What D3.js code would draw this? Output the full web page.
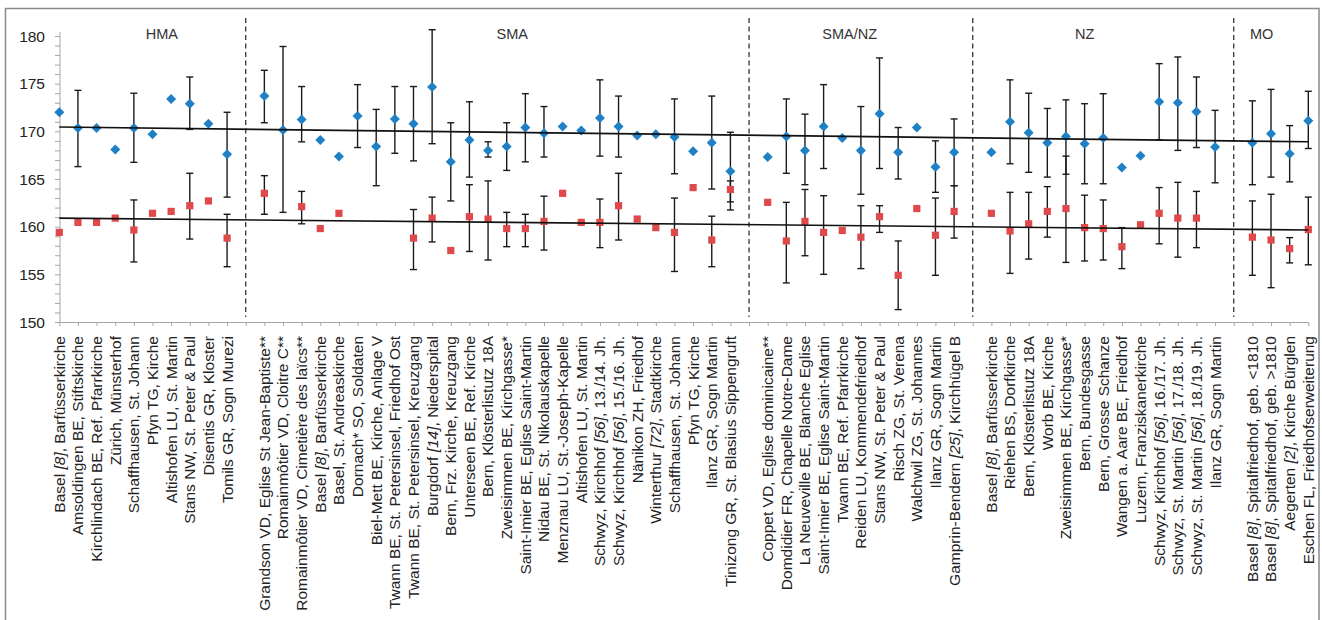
<!DOCTYPE html>
<html>
<head>
<meta charset="utf-8">
<script src="https://cdn.jsdelivr.net/npm/d3@7"></script>
<style>
  html, body { margin: 0; padding: 0; background: #fff; }
  svg { display: block; font-family: "Liberation Sans", Arial, Helvetica, sans-serif; }
</style>
</head>
<body>
<svg id="chart" width="1322" height="620"></svg>
<script>
// ---------- data ----------
const categories = [
  "Basel [8], Barfüsserkirche", "Amsoldingen BE, Stiftskirche", "Kirchlindach BE, Ref. Pfarrkirche",
  "Zürich, Münsterhof", "Schaffhausen, St. Johann", "Pfyn TG, Kirche", "Altishofen LU, St. Martin",
  "Stans NW, St. Peter & Paul", "Disentis GR, Kloster", "Tomils GR, Sogn Murezi", "",
  "Grandson VD, Eglise St Jean-Baptiste**", "Romainmôtier VD, Cloitre C**", "Romainmôtier VD, Cimetière des laïcs**",
  "Basel [8], Barfüsserkirche", "Basel, St. Andreaskirche", "Dornach* SO, Soldaten", "Biel-Mett BE, Kirche, Anlage V",
  "Twann BE, St. Petersinsel, Friedhof Ost", "Twann BE, St. Petersinsel, Kreuzgang", "Burgdorf [14], Niederspital",
  "Bern, Frz. Kirche, Kreuzgang", "Unterseen BE, Ref. Kirche", "Bern, Klösterlistutz 18A", "Zweisimmen BE, Kirchgasse*",
  "Saint-Imier BE, Eglise Saint-Martin", "Nidau BE, St. Nikolauskapelle", "Menznau LU, St.-Joseph-Kapelle",
  "Altishofen LU, St. Martin", "Schwyz, Kirchhof [56], 13./14. Jh.", "Schwyz, Kirchhof [56], 15./16. Jh.",
  "Nänikon ZH, Friedhof", "Winterthur [72], Stadtkirche", "Schaffhausen, St. Johann", "Pfyn TG, Kirche",
  "Ilanz GR, Sogn Martin", "Tinizong GR, St. Blasius Sippengruft", "",
  "Coppet VD, Eglise dominicaine**", "Domdidier FR, Chapelle Notre-Dame", "La Neuveville BE, Blanche Eglise",
  "Saint-Imier BE, Eglise Saint-Martin", "Twann BE, Ref. Pfarrkirche", "Reiden LU, Kommendefriedhof",
  "Stans NW, St. Peter & Paul", "Risch ZG, St. Verena", "Walchwil ZG, St. Johannes", "Ilanz GR, Sogn Martin",
  "Gamprin-Bendern [25], Kirchhügel B", "",
  "Basel [8], Barfüsserkirche", "Riehen BS, Dorfkirche", "Bern, Klösterlistutz 18A", "Worb BE, Kirche",
  "Zweisimmen BE, Kirchgasse*", "Bern, Bundesgasse", "Bern, Grosse Schanze", "Wangen a. Aare BE, Friedhof",
  "Luzern, Franziskanerkirche", "Schwyz, Kirchhof [56], 16./17. Jh.", "Schwyz, St. Martin [56], 17./18. Jh.",
  "Schwyz, St. Martin [56], 18./19. Jh.", "Ilanz GR, Sogn Martin", "",
  "Basel [8], Spitalfriedhof, geb. <1810", "Basel [8], Spitalfriedhof, geb. >1810",
  "Aegerten [2], Kirche Bürglen", "Eschen FL, Friedhofserweiterung"
];

// male mean stature (blue diamonds)
const maleValues = [
  172.0, 170.35, 170.35, 168.1, 170.35, 169.7, 173.4, 172.9, 170.8, 167.6, null,
  173.7, 170.15, 171.25, 169.1, 167.35, 171.6, 168.4, 171.3, 170.8, 174.65, 166.8, 169.1, 168.0, 168.4,
  170.4, 169.8, 170.5, 170.1, 171.4, 170.5, 169.55, 169.7, 169.4, 167.9, 168.8, 165.8, null,
  167.3, 169.45, 168.0, 170.5, 169.3, 168.0, 171.85, 167.8, 170.4, 166.25, 167.8, null,
  167.8, 171.0, 169.85, 168.8, 169.45, 168.7, 169.3, 166.2, 167.45, 173.1, 173.0, 172.05, 168.35, null,
  168.8, 169.75, 167.65, 171.1
];
const maleLow = [
  null, 166.3, null, null, 166.75, null, null, 170.2, null, 163.1, null,
  170.9, 161.5, 168.9, null, null, 168.3, 164.3, 167.7, 166.9, 168.7, 162.7, 165.2, 167.3, 165.9,
  166.8, 167.3, null, null, 167.4, 167.3, null, null, 165.55, null, 163.95, 161.75, null,
  null, 165.6, 164.4, 166.1, null, 163.4, 166.1, 165.0, null, 163.6, 164.3, null,
  null, 166.6, 165.7, 165.2, 165.5, 164.5, 164.5, null, null, 169.1, 168.0, 168.3, 164.6, null,
  164.4, 165.2, 164.7, 168.2
];
const maleHigh = [
  null, 174.3, null, null, 174.0, null, null, 175.7, null, 172.0, null,
  176.4, 178.9, 174.7, null, null, 174.9, 172.3, 174.7, 174.7, 180.66, 170.9, 173.1, 168.9, 170.9,
  173.95, 172.6, null, null, 175.4, 173.7, null, null, 173.4, null, 173.7, 169.9, null,
  null, 173.4, 171.8, 174.9, null, 172.6, 177.7, 170.4, null, 169.0, 171.3, null,
  null, 175.4, 174.0, 172.4, 173.3, 172.9, 173.95, null, null, 177.1, 177.8, 175.7, 172.2, null,
  173.2, 174.4, 170.6, 174.2
];

// female mean stature (red squares)
const femaleValues = [
  159.4, 160.45, 160.45, 160.9, 159.65, 161.4, 161.6, 162.2, 162.7, 158.8, null,
  163.5, null, 162.1, 159.8, 161.4, null, null, null, 158.8, 160.9, 157.5, 161.05, 160.8, 159.8,
  159.8, 160.55, 163.5, 160.45, 160.45, 162.2, 160.8, 159.9, 159.4, 164.1, 158.6, 163.9, null,
  162.55, 158.5, 160.55, 159.4, 159.6, 158.9, 161.05, 154.9, 161.9, 159.1, 161.6, null,
  161.4, 159.55, 160.3, 161.6, 161.9, 159.9, 159.8, 157.9, 160.2, 161.4, 160.9, 160.9, null, null,
  158.9, 158.6, 157.7, 159.7
];
const femaleLow = [
  null, null, null, null, 156.3, null, null, 158.7, null, 155.8, null,
  161.3, null, 160.3, null, null, null, null, null, 155.5, 158.4, null, 157.4, 156.5, 157.9,
  157.9, 157.55, null, null, 157.8, 158.6, null, null, 155.3, null, 155.8, 162.6, null,
  null, 154.1, 156.95, 155.0, null, 155.6, 159.4, 151.3, null, 154.9, 158.8, null,
  null, 155.1, 156.6, 158.9, 156.25, 156.4, 156.5, 155.6, null, 158.2, 156.8, 157.8, null, null,
  154.9, 153.6, 156.2, 156.0
];
const femaleHigh = [
  null, null, null, null, 162.8, null, null, 165.6, null, 161.3, null,
  165.35, null, 163.7, null, null, null, null, null, 161.8, 163.1, null, 164.4, 164.8, 161.5,
  161.3, 163.2, null, null, 162.9, 165.6, null, null, 163.0, null, 161.1, 164.8, null,
  null, 162.55, 163.9, 163.25, null, 162.2, 162.2, 158.5, null, 163.0, 164.3, null,
  null, 163.6, 163.6, 164.2, 167.4, 163.3, 162.8, 159.9, null, 164.1, 164.65, 163.7, null, null,
  162.7, 163.4, 158.85, 163.1
];

// linear trend lines (value at first and last category)
const trendSlots = [0, 67];
const maleTrend = [170.45, 168.9];
const femaleTrend = [160.9, 159.65];

// period groups: label, centre (in category units), separators between groups
const groupNames = ["HMA", "SMA", "SMA/NZ", "NZ", "MO"];
const groupCenters = [5.5, 24.3, 42.4, 55.0, 64.5];
const separatorSlots = [10, 37, 49, 63];

const yTicks = [150, 155, 160, 165, 170, 175, 180];

// ---------- drawing ----------
(function () {
const svg = d3.select("#chart");
const plotLeft = 59.3, plotRight = 1308.3, plotTop = 36, plotBottom = 322;

const x = d3.scalePoint().domain(d3.range(categories.length)).range([plotLeft, plotRight]);
const y = d3.scaleLinear().domain([150, 180]).range([plotBottom, plotTop]);

// outer frame
svg.append("rect").attr("x", 5.5).attr("y", 8.5).attr("width", 1313.5).attr("height", 640)
  .attr("fill", "none").attr("stroke", "#8a8a8a").attr("stroke-width", 1.5);

const axisColor = "#a6a6a6";

// y axis
const yAxisG = svg.append("g").attr("transform", `translate(${plotLeft + 0.7},0)`);
yAxisG.call(d3.axisLeft(y).tickValues(d3.range(150, 181, 1)).tickSize(5).tickFormat("").tickSizeOuter(0));
yAxisG.selectAll("path, line").attr("stroke", axisColor);
yAxisG.select(".domain").attr("d", `M0,${plotBottom}V${plotTop - 4}`);
svg.append("g").selectAll("text").data(yTicks).join("text")
  .attr("x", 45).attr("y", d => y(d)).attr("dy", "0.36em")
  .attr("text-anchor", "end").attr("font-size", 15.5).attr("fill", "#222")
  .text(d => d);

// x axis
const xAxisG = svg.append("g").attr("transform", `translate(0,${plotBottom})`);
xAxisG.call(d3.axisBottom(x).tickSize(4).tickSizeOuter(0).tickFormat(""));
xAxisG.selectAll("path, line").attr("stroke", axisColor);

// category labels
const labelG = svg.append("g");
categories.forEach((c, i) => {
  if (!c) return;
  const t = labelG.append("text")
    .attr("transform", `translate(${x(i)},336) rotate(-90)`)
    .attr("text-anchor", "end").attr("dy", "0.35em")
    .attr("font-size", 15.5).attr("fill", "#222");
  c.split(/(\[\d+\])/).forEach(part => {
    if (!part) return;
    const s = t.append("tspan").text(part);
    if (/^\[\d+\]$/.test(part)) s.attr("font-style", "italic");
  });
});

// separators
svg.append("g").selectAll("line").data(separatorSlots).join("line")
  .attr("x1", d => x(d)).attr("x2", d => x(d))
  .attr("y1", 18).attr("y2", 317)
  .attr("stroke", "#222").attr("stroke-width", 1.2).attr("stroke-dasharray", "5,3.5");

// group labels
const gx = d3.scaleLinear().domain([0, categories.length - 1]).range([plotLeft, plotRight]);
svg.append("g").selectAll("text").data(groupNames).join("text")
  .attr("x", (d, i) => gx(groupCenters[i])).attr("y", 39)
  .attr("text-anchor", "middle").attr("font-size", 14.5).attr("fill", "#333")
  .text(d => d);

// error bars
function errorBars(vals, lo, hi) {
  const idx = d3.range(vals.length).filter(i => lo[i] != null && hi[i] != null);
  const g = svg.append("g").attr("stroke", "#1a1a1a").attr("stroke-width", 1.4);
  g.selectAll("line.v").data(idx).join("line").attr("class", "v")
    .attr("x1", i => x(i)).attr("x2", i => x(i))
    .attr("y1", i => y(lo[i])).attr("y2", i => y(hi[i]));
  g.selectAll("line.lo").data(idx).join("line").attr("class", "lo")
    .attr("x1", i => x(i) - 3.5).attr("x2", i => x(i) + 3.5)
    .attr("y1", i => y(lo[i])).attr("y2", i => y(lo[i]));
  g.selectAll("line.hi").data(idx).join("line").attr("class", "hi")
    .attr("x1", i => x(i) - 3.5).attr("x2", i => x(i) + 3.5)
    .attr("y1", i => y(hi[i])).attr("y2", i => y(hi[i]));
}
errorBars(maleValues, maleLow, maleHigh);
errorBars(femaleValues, femaleLow, femaleHigh);

// markers
const maleIdx = d3.range(maleValues.length).filter(i => maleValues[i] != null);
const femaleIdx = d3.range(femaleValues.length).filter(i => femaleValues[i] != null);
svg.append("g").selectAll("path").data(maleIdx).join("path")
  .attr("d", d3.symbol().type(d3.symbolSquare).size(50)())
  .attr("transform", i => `translate(${x(i)},${y(maleValues[i])}) rotate(45)`)
  .attr("fill", "#1f80c6");
svg.append("g").selectAll("rect").data(femaleIdx).join("rect")
  .attr("x", i => x(i) - 3.6).attr("y", i => y(femaleValues[i]) - 3.6)
  .attr("width", 7.2).attr("height", 7.2)
  .attr("fill", "#e0494c");

// trend lines
const line = d3.line().x(d => x(d[0])).y(d => y(d[1]));
[maleTrend, femaleTrend].forEach(tr => {
  svg.append("path").datum(trendSlots.map((s, k) => [s, tr[k]]))
    .attr("d", line).attr("fill", "none")
    .attr("stroke", "#111").attr("stroke-width", 1.6);
});
})();
</script>
</body>
</html>
